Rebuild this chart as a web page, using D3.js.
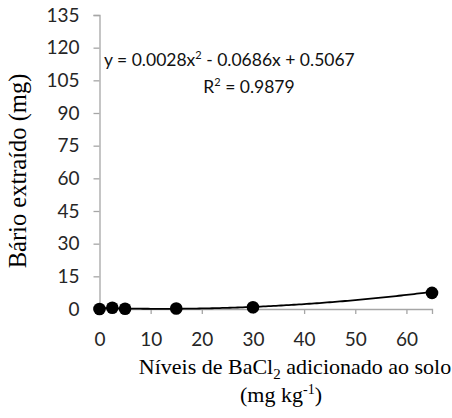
<!DOCTYPE html>
<html>
<head>
<meta charset="utf-8">
<script src="https://cdn.jsdelivr.net/npm/d3@7"></script>
<style>
  body { margin: 0; background: #fff; }
  svg { display: block; }
</style>
</head>
<body>
<div id="canvas"></div>
<script>
var width = 452;
var height = 418;

// data
var doses = [0, 2.5, 5, 15, 30, 65];
var bario = [0, 0.6, 0.1, 0.2, 0.8, 7.4];
var coef = [0.0028, -0.0686, 0.5067];   // a, b, c of the fitted curve
var yTicks = [0, 15, 30, 45, 60, 75, 90, 105, 120, 135];
var xTicks = [0, 10, 20, 30, 40, 50, 60];

var svg = d3.select("#canvas").append("svg")
      .attr("width", width)
      .attr("height", height);

var x = d3.scaleLinear().domain([0, 65]).range([99.5, 432]);
var y = d3.scaleLinear().domain([0, 135]).range([309, 15]);

var axisColor = "#a6a6a6";
var tickFont = "Lato, 'Liberation Sans', sans-serif";
var serif = "'Liberation Serif'";

// y axis
var yAxis = svg.append("g")
    .attr("transform", "translate(" + x(0) + ",0)")
    .call(d3.axisLeft(y).tickValues(yTicks).tickSize(6).tickPadding(14));
// x axis
var xAxis = svg.append("g")
    .attr("transform", "translate(0," + y(0) + ")")
    .call(d3.axisBottom(x).tickValues(xTicks).tickSize(5).tickPadding(19));

[yAxis, xAxis].forEach(function(g) {
  g.select(".domain").attr("stroke", axisColor).attr("stroke-width", 1.3);
  g.selectAll(".tick line").attr("stroke", axisColor).attr("stroke-width", 1.3);
  g.selectAll(".tick text")
    .attr("fill", "#262626")
    .style("font-family", tickFont)
    .style("font-size", "19px");
});

// fitted curve
var curve = d3.range(0, 65.01, 0.5).map(function(v) {
  return [v, coef[0] * v * v + coef[1] * v + coef[2]];
});
svg.append("path")
  .datum(curve)
  .attr("fill", "none")
  .attr("stroke", "#000")
  .attr("stroke-width", 1.8)
  .attr("d", d3.line().x(function(d) { return x(d[0]); }).y(function(d) { return y(d[1]); }));

// observed points
svg.selectAll("circle.pt")
  .data(doses)
  .enter().append("circle")
  .attr("class", "pt")
  .attr("cx", function(d) { return x(d); })
  .attr("cy", function(d, i) { return y(bario[i]); })
  .attr("r", 6.3)
  .attr("fill", "#000");

// equation
var eq = svg.append("text")
  .attr("x", 104).attr("y", 66)
  .style("font-family", tickFont).style("font-size", "17.5px").attr("fill", "#111");
eq.append("tspan").text("y = 0.0028x");
eq.append("tspan").attr("dy", -7).style("font-size", "11px").text("2");
eq.append("tspan").attr("dy", 7).text(" - 0.0686x + 0.5067");

var r2 = svg.append("text")
  .attr("x", 249).attr("y", 93).attr("text-anchor", "middle")
  .style("font-family", tickFont).style("font-size", "17.5px").attr("fill", "#111");
r2.append("tspan").text("R");
r2.append("tspan").attr("dy", -7).style("font-size", "11px").text("2");
r2.append("tspan").attr("dy", 7).text(" = 0.9879");

// axis titles
svg.append("text")
  .attr("transform", "translate(26,171) rotate(-90)")
  .attr("text-anchor", "middle")
  .style("font-family", serif)
  .style("font-size", "24.5px")
  .text("Bário extraído (mg)");

var xt = svg.append("text")
  .attr("x", 295).attr("y", 374).attr("text-anchor", "middle")
  .style("font-family", serif)
  .style("font-size", "22px");
xt.append("tspan").text("Níveis de BaCl");
xt.append("tspan").attr("dy", 5).style("font-size", "15px").text("2");
xt.append("tspan").attr("dy", -5).text(" adicionado ao solo");

var xt2 = svg.append("text")
  .attr("x", 281).attr("y", 402).attr("text-anchor", "middle")
  .style("font-family", serif)
  .style("font-size", "22px");
xt2.append("tspan").text("(mg kg");
xt2.append("tspan").attr("dy", -8).style("font-size", "14px").text("-1");
xt2.append("tspan").attr("dy", 8).text(")");
</script>
</body>
</html>
